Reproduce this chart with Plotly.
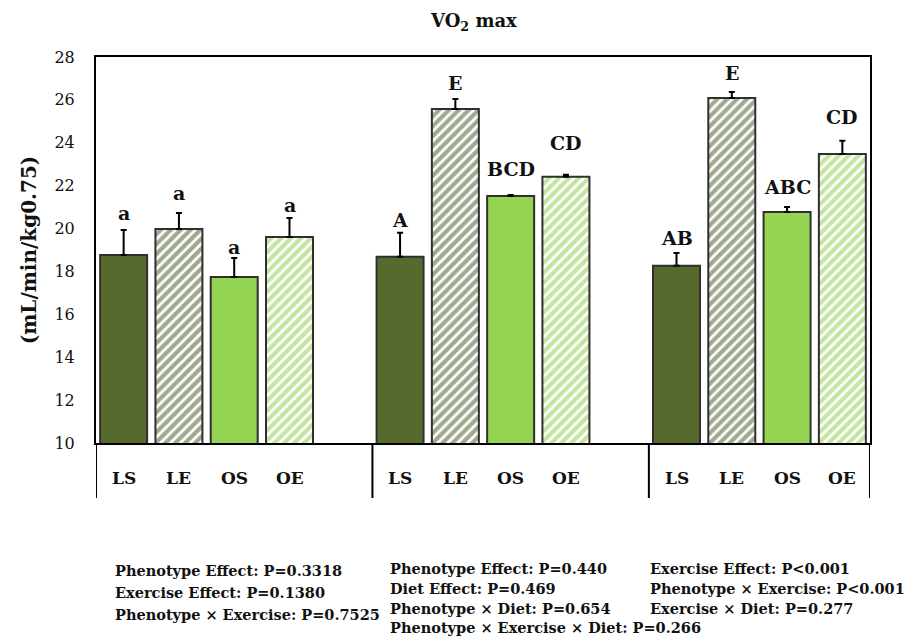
import plotly.graph_objects as go

# ---------------- data ----------------
groups_labels = ["LS", "LE", "OS", "OE"]
slot_LS = [0, 5, 10]
slot_LE = [1, 6, 11]
slot_OS = [2, 7, 12]
slot_OE = [3, 8, 13]

val_LS = [18.77, 18.68, 18.26]
val_LE = [19.98, 25.58, 26.09]
val_OS = [17.74, 21.52, 20.77]
val_OE = [19.61, 22.41, 23.48]

err_LS = [1.16, 1.12, 0.60]
err_LE = [0.75, 0.46, 0.28]
err_OS = [0.89, 0.05, 0.23]
err_OE = [0.88, 0.10, 0.61]

sig_LS = ["a", "A", "AB"]
sig_LE = ["a", "E", "E"]
sig_OS = ["a", "BCD", "ABC"]
sig_OE = ["a", "CD", "CD"]

sigy_LS = [20.73, 20.40, 19.56]
sigy_LE = [21.66, 26.79, 27.26]
sigy_OS = [19.14, 22.78, 21.94]
sigy_OE = [21.10, 23.99, 25.20]

y_ticks = [10, 12, 14, 16, 18, 20, 22, 24, 26, 28]

stats_col1 = ["Phenotype Effect: P=0.3318",
              "Exercise Effect: P=0.1380",
              "Phenotype × Exercise: P=0.7525"]
stats_col2 = ["Phenotype Effect: P=0.440",
              "Diet Effect: P=0.469",
              "Phenotype × Diet: P=0.654",
              "Phenotype × Exercise × Diet: P=0.266"]
stats_col3 = ["Exercise Effect: P<0.001",
              "Phenotype × Exercise: P<0.001",
              "Exercise × Diet: P=0.277"]

# ---------------- styles ----------------
FONT = "DejaVu Serif"
DARK = "#566a2e"
STRIPE_DARK = "#405320"
LIGHT = "#94d452"
STRIPE_LIGHT = "#8acb45"
EDGE = "#2f2f2f"
TXT = "#111111"

W, H = 909, 643
L, R, T, B = 96, 39, 57, 200
PW, PH = W - L - R, H - T - B


def px(x):
    return (x - L) / PW


def py(y):
    return (H - B - y) / PH


fig = go.Figure()

specs = [
    ("LS", slot_LS, val_LS, err_LS, DARK, "", DARK),
    ("LE", slot_LE, val_LE, err_LE, "white", "/", STRIPE_DARK),
    ("OS", slot_OS, val_OS, err_OS, LIGHT, "", LIGHT),
    ("OE", slot_OE, val_OE, err_OE, "white", "/", STRIPE_LIGHT),
]
for name, xs, ys, es, bg, shape, fg in specs:
    marker = dict(color=bg, line=dict(color=EDGE, width=2))
    if shape:
        marker["pattern"] = dict(shape=shape, fgcolor=fg, bgcolor="white",
                                 size=7, solidity=0.6)
    fig.add_trace(go.Bar(
        x=xs, y=ys, name=name, width=0.85, marker=marker,
        error_y=dict(type="data", array=es, arrayminus=[0] * len(es),
                     symmetric=False, color="black", thickness=2, width=3),
        showlegend=False,
    ))

annotations = []
for xs, labs, ysig in [(slot_LS, sig_LS, sigy_LS), (slot_LE, sig_LE, sigy_LE),
                       (slot_OS, sig_OS, sigy_OS), (slot_OE, sig_OE, sigy_OE)]:
    for x, lab, y in zip(xs, labs, ysig):
        annotations.append(dict(x=x, y=y, xref="x", yref="y", text=f"<b>{lab}</b>",
                                showarrow=False, yanchor="middle",
                                font=dict(family=FONT, size=19, color=TXT)))

# category labels under the axis
for xs, lab in zip([slot_LS, slot_LE, slot_OS, slot_OE], groups_labels):
    for x in xs:
        annotations.append(dict(x=x, y=py(478), xref="x", yref="paper",
                                text=f"<b>{lab}</b>", showarrow=False,
                                yanchor="middle",
                                font=dict(family=FONT, size=17, color=TXT)))

# title
annotations.append(dict(x=px(473), y=py(22), xref="paper", yref="paper",
                        text="<b>VO<sub>2</sub> max</b>", showarrow=False,
                        yanchor="middle",
                        font=dict(family=FONT, size=18, color=TXT)))

# statistics text
for col, x0, rows in [(stats_col1, 113, [570, 592, 614]),
                      (stats_col2, 388, [568, 588, 608, 627]),
                      (stats_col3, 648, [568, 588, 608])]:
    for text, yy in zip(col, rows):
        annotations.append(dict(x=px(x0), y=py(yy), xref="paper", yref="paper",
                                text=f"<b>{text}</b>", showarrow=False,
                                xanchor="left", yanchor="middle",
                                font=dict(family=FONT, size=14.5, color=TXT)))

# frame extension below baseline and group separators
ybot = py(498)
shapes = []
for xv in [-0.5, 4.5, 9.5, 13.5]:
    shapes.append(dict(type="line", xref="x", yref="paper", x0=xv, x1=xv,
                       y0=ybot, y1=0, line=dict(color="black", width=2)))

fig.update_layout(
    width=W, height=H,
    margin=dict(l=L, r=R, t=T, b=B, pad=0),
    paper_bgcolor="white", plot_bgcolor="white",
    barmode="overlay",
    annotations=annotations,
    shapes=shapes,
    xaxis=dict(range=[-0.5, 13.5], showticklabels=False, ticks="",
               showgrid=False, zeroline=False, showline=True, mirror=True,
               linecolor="black", linewidth=2),
    yaxis=dict(range=[10, 28], tickvals=y_ticks, ticks="", showgrid=False,
               zeroline=False, showline=True, mirror=True, linecolor="black",
               linewidth=2, ticklabelstandoff=16,
               tickfont=dict(family=FONT, size=16, color=TXT),
               tickprefix="<b>", ticksuffix="</b>",
               title=dict(text="<b>(mL/min/kg0.75)</b>", standoff=12,
                          font=dict(family=FONT, size=20, color=TXT))),
)

fig.write_html("out.html")
